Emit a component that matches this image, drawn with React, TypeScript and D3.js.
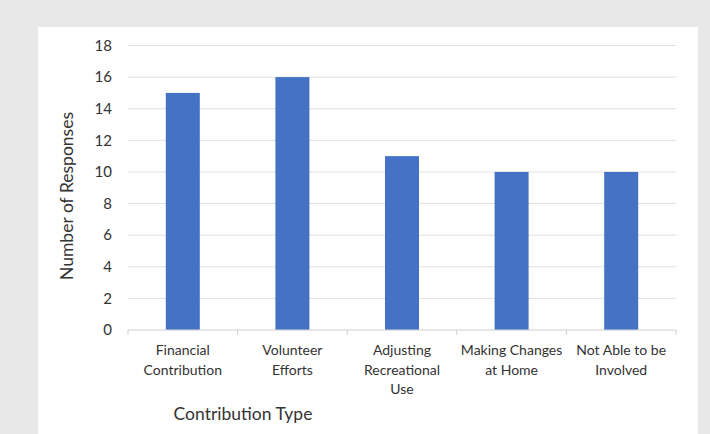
import React from "react";
import * as d3 from "d3";

const categories: string[][] = [
  ["Financial", "Contribution"],
  ["Volunteer", "Efforts"],
  ["Adjusting", "Recreational", "Use"],
  ["Making Changes", "at Home"],
  ["Not Able to be", "Involved"],
];
const values: number[] = [15, 16, 11, 10, 10];
const yTicks: number[] = [0, 2, 4, 6, 8, 10, 12, 14, 16, 18];
const yTitle = "Number of Responses";
const xTitle = "Contribution Type";

const W = 710;
const H = 434;
const FONT = "Lato, 'Open Sans', sans-serif";

export default function App() {
  const x = d3
    .scaleBand<number>()
    .domain(values.map((_, i) => i))
    .range([128, 676])
    .paddingInner(0)
    .paddingOuter(0);
  const y = d3.scaleLinear().domain([0, 18]).range([330, 45.5]);
  const barW = 34;

  return (
    <svg
      width={W}
      height={H}
      style={{ position: "absolute", left: 0, top: 0 }}
    >
      <rect x={0} y={0} width={W} height={H} fill="#e8e8e8" />
      <rect x={38} y={27} width={660} height={H - 27} fill="#ffffff" />
      {yTicks.map((t) => (
        <g key={t}>
          {t > 0 && (
            <line
              x1={128}
              x2={676}
              y1={y(t)}
              y2={y(t)}
              stroke="#e0e0e0"
              strokeWidth={1}
            />
          )}
          <text
            x={112}
            y={y(t)}
            dy="0.35em"
            textAnchor="end"
            fontFamily={FONT}
            fontSize={15}
            fill="#333333"
          >
            {t}
          </text>
        </g>
      ))}
      {values.map((v, i) => (
        <rect
          key={i}
          x={(x(i) as number) + x.bandwidth() / 2 - barW / 2}
          y={y(v)}
          width={barW}
          height={y(0) - y(v)}
          fill="#4472c4"
        />
      ))}
      <line x1={128} x2={676} y1={330} y2={330} stroke="#d0d0d0" strokeWidth={1} />
      {d3.range(values.length + 1).map((i) => {
        const xx = 128 + i * x.bandwidth();
        return (
          <line key={i} x1={xx} x2={xx} y1={330} y2={335} stroke="#d0d0d0" strokeWidth={1} />
        );
      })}
      {categories.map((lines, i) => (
        <text
          key={i}
          textAnchor="middle"
          fontFamily={FONT}
          fontSize={14}
          fill="#333333"
        >
          {lines.map((l, j) => (
            <tspan key={j} x={(x(i) as number) + x.bandwidth() / 2} y={355 + j * 19.5}>
              {l}
            </tspan>
          ))}
        </text>
      ))}
      <text
        transform={`translate(73,196) rotate(-90)`}
        textAnchor="middle"
        fontFamily={FONT}
        fontSize={17.5}
        fill="#333333"
      >
        {yTitle}
      </text>
      <text
        x={243}
        y={420}
        textAnchor="middle"
        fontFamily={FONT}
        fontSize={17.5}
        fill="#333333"
      >
        {xTitle}
      </text>
    </svg>
  );
}
